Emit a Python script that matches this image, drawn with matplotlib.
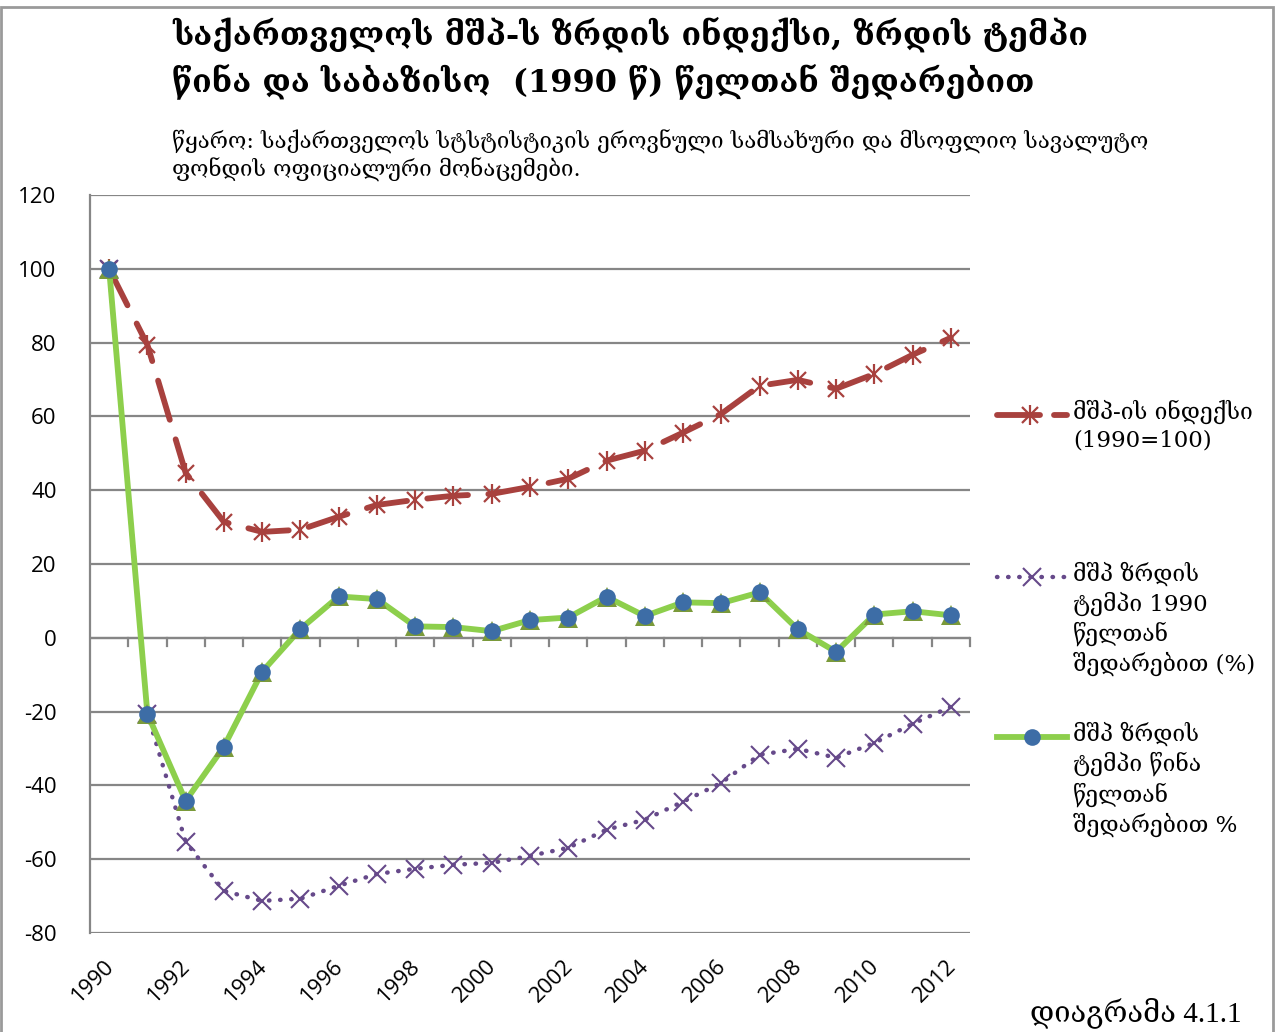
import matplotlib
matplotlib.use("Agg")
import matplotlib.pyplot as plt
from matplotlib.lines import Line2D
from matplotlib.patches import Rectangle

plt.rcParams["axes.unicode_minus"] = False

years = list(range(1990, 2013))
gdp_index = [100, 79.4, 44.7, 31.4, 28.7, 29.3, 32.8, 36.0, 37.4, 38.5, 39.0, 40.9,
             43.1, 48.0, 50.7, 55.6, 60.7, 68.3, 69.9, 67.5, 71.5, 76.7, 81.3]
growth_vs_1990 = [100, -20.6, -55.3, -68.6, -71.3, -70.7, -67.2, -64.0, -62.6, -61.5,
                  -61.0, -59.1, -56.9, -52.0, -49.3, -44.4, -39.3, -31.7, -30.1, -32.5,
                  -28.5, -23.3, -18.7]
growth_yoy = [100, -20.6, -44.2, -29.5, -9.2, 2.4, 11.2, 10.5, 3.1, 2.9, 1.8, 4.8,
              5.5, 11.1, 5.9, 9.6, 9.4, 12.3, 2.3, -3.8, 6.3, 7.2, 6.1]

title = "საქართველოს მშპ-ს ზრდის ინდექსი, ზრდის ტემპი\nწინა და საბაზისო  (1990 წ) წელთან შედარებით"
source = "წყარო: საქართველოს სტსტისტიკის ეროვნული სამსახური და მსოფლიო სავალუტო\nფონდის ოფიციალური მონაცემები."
labels = ["მშპ-ის ინდექსი\n(1990=100)",
          "მშპ ზრდის\nტემპი 1990\nწელთან\nშედარებით (%)",
          "მშპ ზრდის\nტემპი წინა\nწელთან\nშედარებით %"]
caption = "დიაგრამა 4.1.1"

W, H = 1282, 1032
fig = plt.figure(figsize=(W / 100, H / 100), dpi=100)

def fx(px):
    return px / W

def fy(py):
    return 1 - py / H

geo = ["DejaVu Serif", "DejaVu Sans"]
num = "Open Sans"

# figure frame
fig.add_artist(Rectangle((fx(1), fy(1040)), fx(1273) - fx(1), fy(7) - fy(1040),
                         transform=fig.transFigure, fill=False, edgecolor="#9a9a9a",
                         linewidth=2))

ax = fig.add_axes([fx(90), fy(933), fx(970) - fx(90), fy(195) - fy(933)])

red = "#A8413E"
purple = "#66498A"
green = "#8DCF4C"
blue = "#3D6DA6"
olive = "#7A9A3A"
gridc = "#868686"

ax.set_xlim(1989.5, 2012.5)
ax.set_ylim(-80, 120)
ax.set_yticks(range(-80, 121, 20))
ax.yaxis.grid(True, color=gridc, linewidth=1.6)
ax.set_axisbelow(True)
for s in ["top", "right", "bottom"]:
    ax.spines[s].set_visible(False)
ax.spines["left"].set_color(gridc)
ax.spines["left"].set_linewidth(1.6)
ax.tick_params(axis="y", length=0, labelsize=16, pad=24)
for t in ax.get_yticklabels():
    t.set_family(num)
ax.tick_params(axis="x", length=0)
ax.set_xticks([])

# x axis at zero with ticks between categories
ax.axhline(0, color=gridc, linewidth=1.6, zorder=1)
for b in [y + 0.5 for y in years[:-1]] + [2012.5]:
    ax.plot([b, b], [0, -2.2], color=gridc, linewidth=1.6, zorder=1, clip_on=False)

# year labels
for y in years[::2]:
    ax.text(y - 0.15, -86, str(y), rotation=45, ha="right", va="top", fontsize=16,
            family=num, rotation_mode="anchor")

# series
ax.plot(years, gdp_index, color=red, linewidth=4.2, dashes=(7, 3.5),
        dash_capstyle="round", zorder=3)
ax.plot(years, gdp_index, linestyle="none", marker="x", markersize=12,
        markeredgewidth=1.6, color=red, zorder=4)
ax.plot(years, gdp_index, linestyle="none", marker="|", markersize=15,
        markeredgewidth=1.6, color=red, zorder=4)

ax.plot(years, growth_vs_1990, color=purple, linewidth=3.2, linestyle=(0, (0.1, 2.4)),
        dash_capstyle="round", zorder=3)
ax.plot(years, growth_vs_1990, linestyle="none", marker="x", markersize=13,
        markeredgewidth=1.5, color=purple, zorder=4)

ax.plot(years, growth_yoy, color=green, linewidth=4.2, zorder=5)
ax.plot(years, growth_yoy, linestyle="none", marker="^", markersize=14,
        color=olive, markeredgewidth=0, zorder=6)
ax.plot(years, growth_yoy, linestyle="none", marker="o", markersize=12,
        color=blue, markeredgewidth=0, zorder=7)

# title and source
fig.text(fx(172), fy(16), title, ha="left", va="top", fontsize=23, fontweight="bold",
         family=geo, linespacing=1.4)
fig.text(fx(172), fy(130), source, ha="left", va="top", fontsize=16, family=geo,
         linespacing=1.2)

# legend (manual)
tx = fx(1073)
x0, x1 = fx(997), fx(1067)
fs_leg = 16.5
# entry 1
fig.add_artist(Line2D([x0, fx(1040)], [fy(415), fy(415)], transform=fig.transFigure,
                      color=red, linewidth=4.2, solid_capstyle="round"))
fig.add_artist(Line2D([fx(1054), x1], [fy(415), fy(415)], transform=fig.transFigure,
                      color=red, linewidth=4.2, solid_capstyle="round"))
fig.add_artist(Line2D([fx(1030)], [fy(415)], transform=fig.transFigure, color=red,
                      marker="x", markersize=12, markeredgewidth=1.6))
fig.add_artist(Line2D([fx(1030)], [fy(415)], transform=fig.transFigure, color=red,
                      marker="|", markersize=15, markeredgewidth=1.6))
fig.text(tx, fy(400), labels[0], ha="left", va="top", fontsize=fs_leg, family=geo,
         linespacing=1.3)
# entry 2
fig.add_artist(Line2D([x0, x1], [fy(577), fy(577)], transform=fig.transFigure,
                      color=purple, linewidth=3.2, linestyle=(0, (0.1, 2.4)),
                      dash_capstyle="round"))
fig.add_artist(Line2D([fx(1032)], [fy(577)], transform=fig.transFigure, color=purple,
                      marker="x", markersize=13, markeredgewidth=1.5))
fig.text(tx, fy(562), labels[1], ha="left", va="top", fontsize=fs_leg, family=geo,
         linespacing=1.3)
# entry 3
fig.add_artist(Line2D([x0, x1], [fy(737), fy(737)], transform=fig.transFigure,
                      color=green, linewidth=4.2))
fig.add_artist(Line2D([fx(1032)], [fy(737)], transform=fig.transFigure, color=blue,
                      marker="o", markersize=12, markeredgewidth=0))
fig.text(tx, fy(722), labels[2], ha="left", va="top", fontsize=fs_leg, family=geo,
         linespacing=1.3)

fig.text(fx(1030), fy(1013), caption, ha="left", va="center", fontsize=21,
         family=["Liberation Serif", "DejaVu Serif", "DejaVu Sans"])

fig.savefig("out.png", dpi=100)
